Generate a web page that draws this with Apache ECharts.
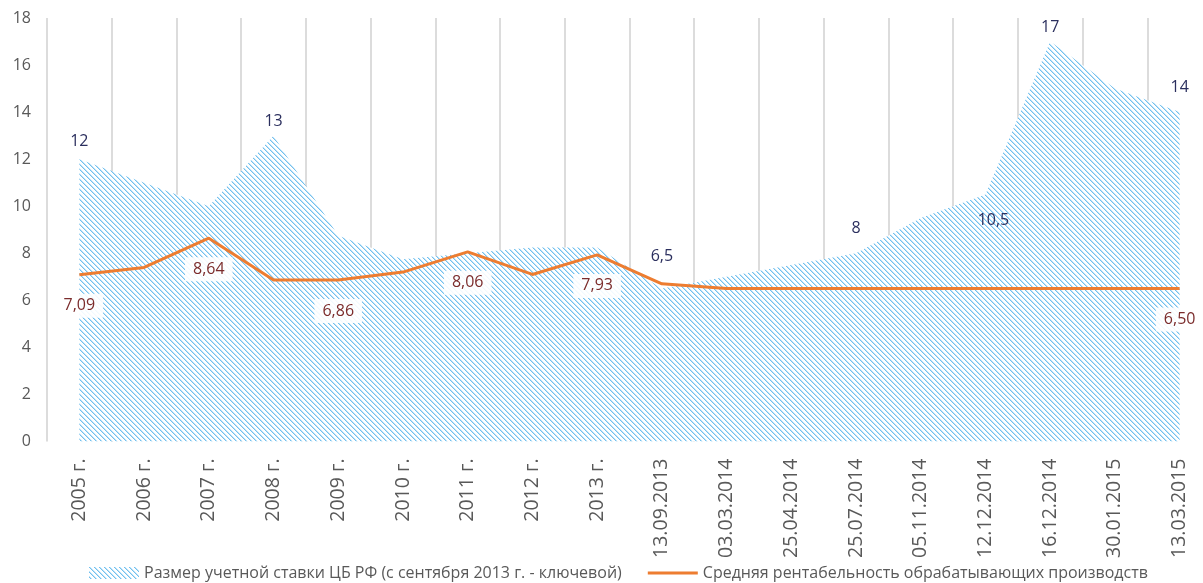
<!DOCTYPE html>
<html>
<head>
<meta charset="utf-8">
<script src="https://cdn.jsdelivr.net/npm/echarts@6/dist/echarts.min.js"></script>
<style>
  html, body { margin: 0; padding: 0; background: #fff; }
  #chart { width: 1203px; height: 583px; }
</style>
</head>
<body>
<div id="chart"></div>
<script>
// категории
const categories = ['2005 г.', '2006 г.', '2007 г.', '2008 г.', '2009 г.', '2010 г.', '2011 г.', '2012 г.', '2013 г.',
    '13.09.2013', '03.03.2014', '25.04.2014', '25.07.2014', '05.11.2014', '12.12.2014', '16.12.2014', '30.01.2015', '13.03.2015'];

// ставка ЦБ
const rateValues = [12, 11, 10, 13, 8.75, 7.75, 8, 8.25, 8.25, 6.5, 7, 7.5, 8, 9.5, 10.5, 17, 15, 14];

// рентабельность
const profitValues = [7.09, 7.4, 8.64, 6.86, 6.86, 7.2, 8.06, 7.1, 7.93, 6.7, 6.5, 6.5, 6.5, 6.5, 6.5, 6.5, 6.5, 6.5];

const rateName = 'Размер учетной ставки ЦБ РФ (с сентября 2013 г. - ключевой)';
const profitName = 'Средняя рентабельность обрабатывающих производств';

const FONT = 'Open Sans';

// штриховка
function makeHatch() {
    const n = 5;
    const c = document.createElement('canvas');
    c.width = n; c.height = n;
    const ctx = c.getContext('2d');
    ctx.fillStyle = '#ffffff';
    ctx.fillRect(0, 0, n, n);
    for (let i = 0; i < n; i++) {
        ctx.fillStyle = '#72c0ee';
        ctx.fillRect(i, i, 1, 1);
        ctx.fillStyle = '#bfe3f8';
        ctx.fillRect((i + 1) % n, i, 1, 1);
    }
    return c;
}
const hatch = { image: makeHatch(), repeat: 'repeat' };

// какие точки подписаны
const rateLabels = {
    0: { position: 'top', distance: 10 },
    3: { position: 'top', distance: 6 },
    9: { position: 'top', distance: 24 },
    12: { position: 'top', distance: 17 },
    14: { position: 'bottom', distance: 18, offset: [8, 0] },
    15: { position: 'top', distance: 6 },
    17: { position: 'top', distance: 17 }
};
const profitLabels = [0, 2, 4, 6, 8, 17];

const rateData = rateValues.map((v, i) => {
    const l = rateLabels[i];
    return {
        value: v,
        label: l ? Object.assign({ show: true }, l) : { show: false }
    };
});
const profitData = profitValues.map((v, i) => ({
    value: v,
    label: { show: profitLabels.indexOf(i) >= 0 }
}));

const chart = echarts.init(document.getElementById('chart'));
chart.setOption({
    animation: false,
    textStyle: { fontFamily: FONT },
    grid: { left: 47, top: 18, bottom: 141.5, right: -9, containLabel: false, outerBoundsMode: 'none' },
    legend: {
        left: 84,
        bottom: -3,
        itemWidth: 50,
        itemHeight: 12,
        itemGap: 26,
        textStyle: { fontSize: 16, color: '#595959', fontFamily: FONT },
        data: [
            { name: rateName, icon: 'rect', itemStyle: { color: hatch } },
            { name: profitName, icon: 'path://M0,0 L50,0 L50,3 L0,3 Z', itemStyle: { color: '#ed7d31' } }
        ]
    },
    xAxis: {
        type: 'category',
        data: categories,
        boundaryGap: true,
        z: 0,
        axisLine: { show: false },
        axisTick: { show: false },
        axisLabel: { rotate: 90, fontSize: 19.5, color: '#595959', margin: 17, interval: 0 },
        splitLine: { show: true, interval: 0, lineStyle: { color: '#d0d0d0', width: 1.5 } }
    },
    yAxis: {
        type: 'value',
        min: 0,
        max: 18,
        interval: 2,
        axisLine: { show: false },
        axisTick: { show: false },
        splitLine: { show: false },
        axisLabel: { fontSize: 16, color: '#595959', margin: 16 }
    },
    series: [
        {
            name: rateName,
            type: 'line',
            data: rateData,
            symbol: 'circle',
            symbolSize: 0,
            showSymbol: true,
            lineStyle: { width: 0 },
            itemStyle: { color: 'rgba(0,0,0,0)' },
            areaStyle: { color: hatch, opacity: 1 },
            label: {
                fontSize: 16,
                color: '#2b2f5e',
                formatter: p => String(p.value).replace('.', ',')
            },
            z: 2
        },
        {
            name: profitName,
            type: 'line',
            data: profitData,
            symbol: 'circle',
            symbolSize: 0,
            showSymbol: true,
            lineStyle: { color: '#ed7d31', width: 3 },
            itemStyle: { color: '#ed7d31' },
            label: {
                position: 'bottom',
                distance: 19,
                fontSize: 16,
                color: '#7b2c2c',
                backgroundColor: 'rgba(255,255,255,0.9)',
                padding: [4, 8],
                formatter: p => p.value.toFixed(2).replace('.', ',')
            },
            z: 3
        }
    ]
});
</script>
</body>
</html>
